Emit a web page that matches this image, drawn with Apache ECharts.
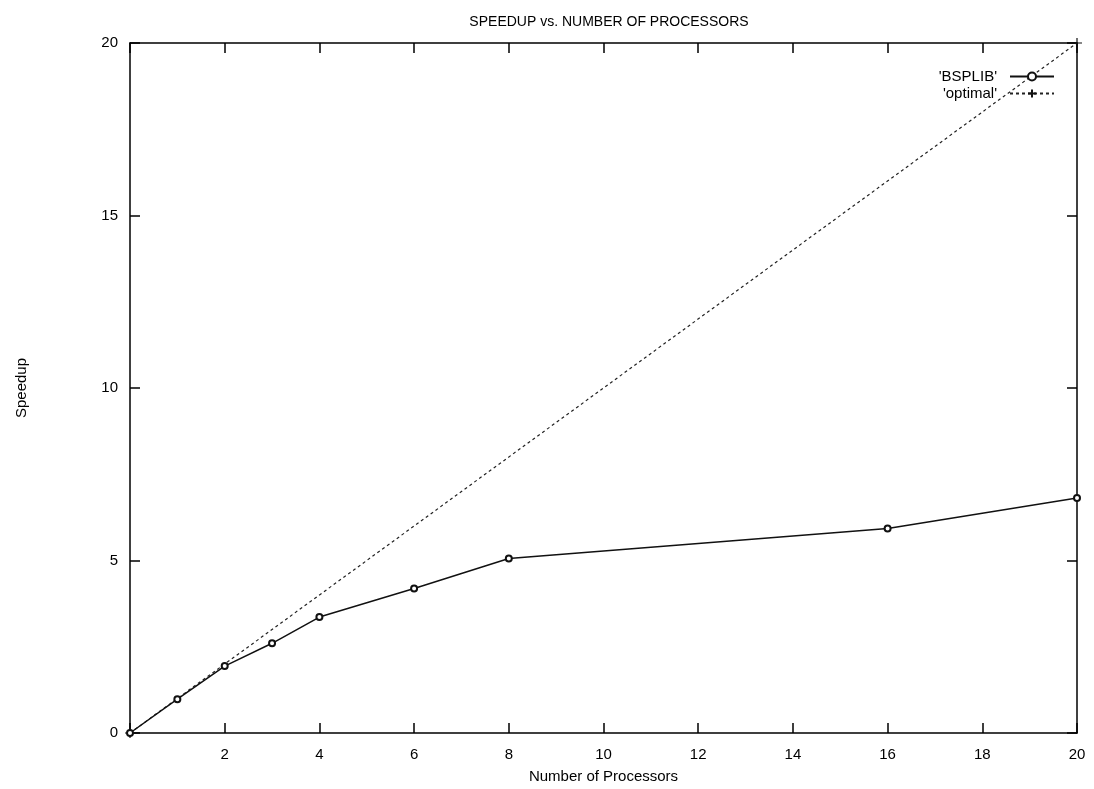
<!DOCTYPE html>
<html>
<head>
<meta charset="utf-8">
<script src="https://cdn.jsdelivr.net/npm/echarts@6/dist/echarts.min.js"></script>
<style>
html,body{margin:0;padding:0;background:#fff;}
#chart{width:1094px;height:789px;}
</style>
</head>
<body>
<div id="chart"></div>
<script>
const processors = [0, 1, 2, 3, 4, 6, 8, 16, 20];
const bsplibSpeedup = [0, 0.98, 1.94, 2.6, 3.36, 4.19, 5.06, 5.93, 6.81];
const optimalX = [0, 20];
const optimalY = [0, 20];
const xTicks = [2, 4, 6, 8, 10, 12, 14, 16, 18, 20];
const yTicks = [0, 5, 10, 15, 20];

const FONT = '"Liberation Sans", Arial, sans-serif';
const plusPath = 'path://M0,5 L10,5 M5,0 L5,10';

const chart = echarts.init(document.getElementById('chart'), null, {renderer: 'canvas'});

const axisCommon = {
  type: 'value',
  min: 0,
  max: 20,
  splitLine: {show: false},
  axisLine: {show: true, onZero: false, lineStyle: {color: '#000', width: 1.5}},
  axisTick: {show: true, inside: true, length: 10, lineStyle: {color: '#000', width: 1.5}}
};

chart.setOption({
  animation: false,
  backgroundColor: '#fff',
  title: {
    text: 'SPEEDUP vs. NUMBER OF PROCESSORS',
    left: 604,
    textAlign: 'center',
    top: 10,
    textStyle: {fontFamily: FONT, fontSize: 14, fontWeight: 'normal', color: '#000'}
  },
  legend: {
    right: 34,
    top: 64,
    orient: 'vertical',
    align: 'right',
    itemGap: 2,
    itemWidth: 44,
    itemHeight: 10,
    textStyle: {fontFamily: FONT, fontSize: 15, color: '#000', padding: [0, 8, 0, 0]},
    data: [
      {name: "'BSPLIB'"},
      {name: "'optimal'"}
    ]
  },
  grid: {left: 130, right: 17, top: 43, bottom: 56},
  xAxis: [
    Object.assign({}, axisCommon, {
      position: 'bottom',
      interval: 2,
      name: 'Number of Processors',
      nameLocation: 'middle',
      nameGap: 36,
      nameTextStyle: {fontFamily: FONT, fontSize: 15, color: '#000'},
      axisLabel: {
        show: true, margin: 14, fontFamily: FONT, fontSize: 15, color: '#000',
        formatter: v => xTicks.indexOf(v) >= 0 ? String(v) : ''
      }
    }),
    Object.assign({}, axisCommon, {
      position: 'top',
      interval: 2,
      axisLabel: {show: false}
    })
  ],
  yAxis: [
    Object.assign({}, axisCommon, {
      position: 'left',
      interval: 5,
      name: 'Speedup',
      nameLocation: 'middle',
      nameGap: 101,
      nameRotate: 90,
      nameTextStyle: {fontFamily: FONT, fontSize: 15, color: '#000'},
      axisLabel: {
        show: true, margin: 12, fontFamily: FONT, fontSize: 15, color: '#000',
        formatter: v => yTicks.indexOf(v) >= 0 ? String(v) : ''
      }
    }),
    Object.assign({}, axisCommon, {
      position: 'right',
      interval: 5,
      axisLabel: {show: false}
    })
  ],
  series: [
    {
      name: "'BSPLIB'",
      type: 'line',
      xAxisIndex: 0,
      yAxisIndex: 0,
      data: processors.map((p, i) => [p, bsplibSpeedup[i]]),
      symbol: 'emptyCircle',
      symbolSize: 6,
      showAllSymbol: true,
      lineStyle: {color: '#111', width: 1.5},
      itemStyle: {color: '#111', borderColor: '#111', borderWidth: 1.2},
      z: 3
    },
    {
      name: "'optimal'",
      type: 'line',
      xAxisIndex: 0,
      yAxisIndex: 0,
      data: optimalX.map((p, i) => [p, optimalY[i]]),
      symbol: plusPath,
      symbolSize: 10,
      showAllSymbol: true,
      lineStyle: {color: '#222', width: 1.2, type: [3, 3]},
      itemStyle: {color: 'transparent', borderColor: '#111', borderWidth: 1.2},
      z: 2
    }
  ]
});
</script>
</body>
</html>
